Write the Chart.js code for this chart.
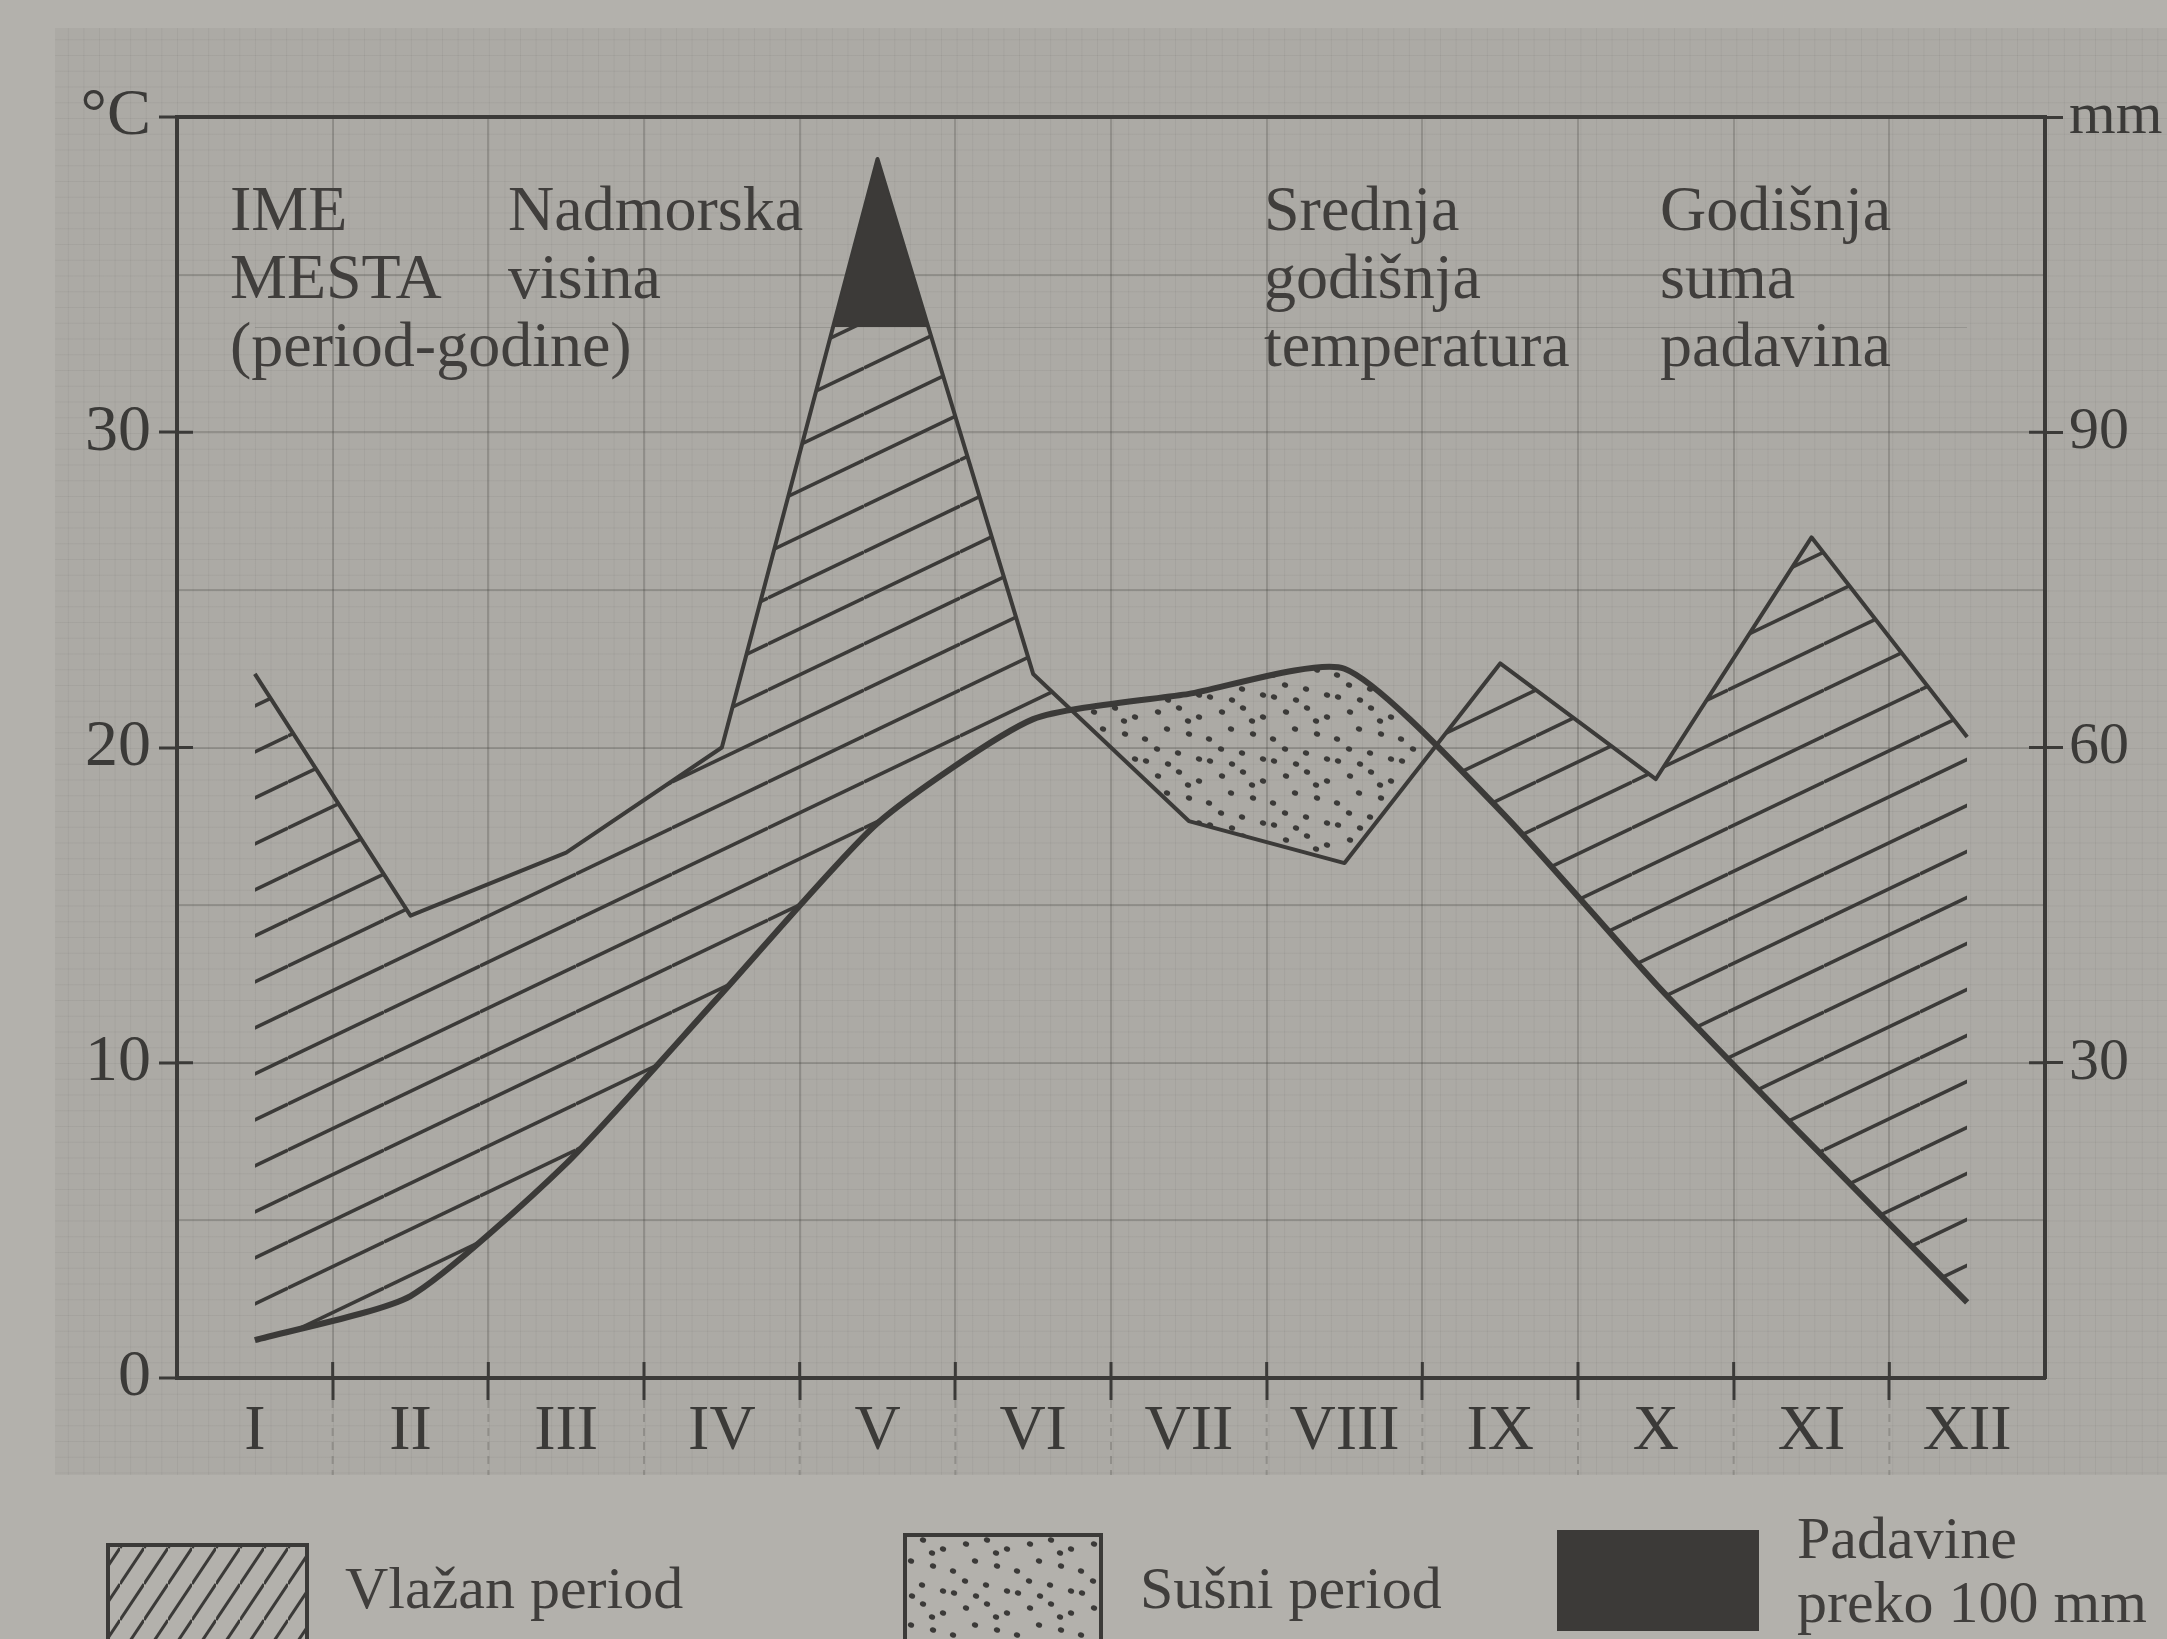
<!DOCTYPE html>
<html>
<head>
<meta charset="utf-8">
<script src="https://cdn.jsdelivr.net/npm/chart.js@4.4.1/dist/chart.umd.min.js"></script>
<style>
  html, body { margin: 0; padding: 0; background: #b3b1ac; }
  body { width: 2167px; height: 1639px; position: relative; overflow: hidden; }
  #paper {
    position: absolute; left: 55px; top: 28px; width: 2112px; height: 1447px;
    background-color: #acaaa5;
    background-image:
      linear-gradient(to right, rgba(70, 68, 65, 0.07) 1px, transparent 1px),
      linear-gradient(to bottom, rgba(70, 68, 65, 0.07) 1px, transparent 1px);
    background-size: 15.6px 15.75px;
    background-position: 12.8px 11.25px;
  }
  #wrap { position: absolute; left: 0; top: 0; width: 2167px; height: 1639px; }
</style>
</head>
<body>
<div id="paper"></div>
<div id="wrap"><canvas id="chart"></canvas></div>
<script>
const months = ['I', 'II', 'III', 'IV', 'V', 'VI', 'VII', 'VIII', 'IX', 'X', 'XI', 'XII'];
const temperature = [1.2, 2.6, 6.8, 12.2, 17.6, 20.9, 21.7, 22.5, 18.0, 12.5, 7.4, 2.4];
const precipitation = [67, 44, 50, 60, 116, 67, 53, 49, 68, 57, 80, 61];
const tempTickLabels = ['0', '10', '20', '30', '°C'];
const rainTickLabels = ['', '30', '60', '90', 'mm'];
const wetLimit = 100;

const ink = '#3b3a38';
const gridInk = 'rgba(60, 58, 55, 0.24)';
const serif = '"Liberation Serif", "DejaVu Serif", serif';
Chart.defaults.font.family = serif;
Chart.defaults.color = ink;

// diagonal hatch, lines rising to the right
const makeHatch = (w, h, width) => {
    const c = document.createElement('canvas');
    c.width = w; c.height = h;
    const g = c.getContext('2d');
    g.strokeStyle = ink;
    g.lineWidth = width;
    for (const off of [-h, 0, h]) {
        g.beginPath();
        g.moveTo(0, h + off);
        g.lineTo(w, off);
        g.stroke();
    }
    return g.createPattern(c, 'repeat');
};

const dotSpots = [[6, 8], [27, 4], [47, 13], [15, 25], [37, 30], [57, 35], [5, 45], [26, 49], [47, 55], [16, 60], [36, 17], [58, 57]];
const makeDots = () => {
    const c = document.createElement('canvas');
    c.width = 64; c.height = 64;
    const g = c.getContext('2d');
    g.fillStyle = ink;
    dotSpots.forEach(([x, y]) => {
        g.beginPath();
        g.ellipse(x, y, 3.2, 2.6, 0.4, 0, Math.PI * 2);
        g.fill();
    });
    return g.createPattern(c, 'repeat');
};

const hatch = makeHatch(96, 46, 3.5);
const legendHatch = makeHatch(24, 36, 3);
const dots = makeDots();

const crossTicks = {
    id: 'crossTicks',
    afterDraw(chart) {
        const { ctx, chartArea, scales } = chart;
        ctx.save();
        ctx.strokeStyle = ink;
        ctx.lineWidth = 3;
        tempTickLabels.forEach((t, i) => {
            const y = scales.y.getPixelForValue(i * 10);
            ctx.beginPath(); ctx.moveTo(chartArea.left, y); ctx.lineTo(chartArea.left + 16, y); ctx.stroke();
        });
        rainTickLabels.forEach((t, i) => {
            if (!t) return;
            const y = scales.y2.getPixelForValue(i * 30);
            ctx.beginPath(); ctx.moveTo(chartArea.right - 16, y); ctx.lineTo(chartArea.right, y); ctx.stroke();
        });
        for (let i = 1; i < months.length; i++) {
            const x = (scales.x.getPixelForValue(i - 1) + scales.x.getPixelForValue(i)) / 2;
            ctx.strokeStyle = ink;
            ctx.lineWidth = 3;
            ctx.beginPath(); ctx.moveTo(x, chartArea.bottom - 16); ctx.lineTo(x, chartArea.bottom); ctx.stroke();
            ctx.strokeStyle = gridInk;
            ctx.lineWidth = 2;
            ctx.setLineDash([8, 6]);
            ctx.beginPath(); ctx.moveTo(x, chartArea.bottom + 22); ctx.lineTo(x, 1475); ctx.stroke();
            ctx.setLineDash([]);
        }
        ctx.restore();
    }
};

const headerText = {
    id: 'headerText',
    beforeDatasetsDraw(chart) {
        const ctx = chart.ctx;
        ctx.save();
        ctx.fillStyle = '#403e3c';
        ctx.font = `64px ${serif}`;
        ctx.textBaseline = 'alphabetic';
        const cols = [
            [230, ['IME', 'MESTA', '(period-godine)']],
            [508, ['Nadmorska', 'visina']],
            [1264, ['Srednja', 'godišnja', 'temperatura']],
            [1660, ['Godišnja', 'suma', 'padavina']]
        ];
        cols.forEach(([x, lines]) => {
            lines.forEach((s, i) => ctx.fillText(s, x, 230 + i * 68));
        });
        ctx.restore();
    }
};

const bottomLegend = {
    id: 'bottomLegend',
    afterDraw(chart) {
        const ctx = chart.ctx;
        ctx.save();
        ctx.lineWidth = 4;
        ctx.strokeStyle = ink;
        ctx.fillStyle = legendHatch;
        ctx.fillRect(108, 1545, 199, 120);
        ctx.strokeRect(108, 1545, 199, 120);
        ctx.fillStyle = dots;
        ctx.fillRect(905, 1535, 196, 120);
        ctx.strokeRect(905, 1535, 196, 120);
        ctx.fillStyle = '#3c3a38';
        ctx.fillRect(1557, 1530, 202, 101);
        ctx.fillStyle = '#403e3c';
        ctx.font = `60px ${serif}`;
        ctx.fillText('Vlažan period', 345, 1608);
        ctx.fillText('Sušni period', 1140, 1608);
        ctx.fillText('Padavine', 1797, 1558);
        ctx.fillText('preko 100 mm', 1797, 1622);
        ctx.restore();
    }
};

new Chart(document.getElementById('chart'), {
    type: 'line',
    data: {
        labels: months,
        datasets: [
            {
                label: 'Srednja temperatura',
                data: temperature,
                yAxisID: 'y',
                borderColor: ink,
                borderWidth: 6,
                tension: 0.2,
                pointRadius: 0,
                fill: false,
                order: 0
            },
            {
                label: 'Padavine',
                data: precipitation,
                yAxisID: 'y2',
                borderColor: ink,
                borderWidth: 4,
                borderJoinStyle: 'round',
                tension: 0,
                pointRadius: 0,
                fill: { target: 0, above: hatch, below: dots },
                order: 2
            },
            {
                label: 'Padavine preko 100 mm',
                data: precipitation,
                yAxisID: 'y2',
                borderWidth: 0,
                borderColor: 'rgba(0,0,0,0)',
                tension: 0,
                pointRadius: 0,
                fill: { value: wetLimit, above: '#3c3a38', below: 'rgba(0,0,0,0)' },
                order: 1
            }
        ]
    },
    options: {
        responsive: true,
        maintainAspectRatio: false,
        animation: false,
        devicePixelRatio: 1,
        layout: { padding: { left: 0, right: 0, top: 117, bottom: 171 } },
        plugins: {
            legend: { display: false },
            tooltip: { enabled: false }
        },
        scales: {
            x: {
                offset: true,
                grid: {
                    offset: true,
                    color: gridInk,
                    lineWidth: 2,
                    tickLength: 22,
                    tickWidth: 3,
                    tickColor: ctx => (ctx.type !== 'tick' || ctx.index === 0) ? 'rgba(0,0,0,0)' : ink
                },
                border: { color: ink, width: 4 },
                ticks: { font: { size: 64 }, color: ink, padding: -6 },
                afterFit: s => { s.height = 90; }
            },
            y: {
                min: 0,
                max: 40,
                ticks: {
                    stepSize: 5,
                    autoSkip: false,
                    font: { size: 66 },
                    color: ink,
                    padding: 8,
                    callback: v => v % 10 === 0 ? tempTickLabels[v / 10] : ''
                },
                grid: {
                    color: ctx => ctx.tick.value === 40 ? ink : gridInk,
                    lineWidth: ctx => ctx.tick.value === 40 ? 4 : 2,
                    tickLength: 18,
                    tickWidth: 3,
                    tickColor: ctx => ctx.tick.value % 10 === 0 ? ink : 'rgba(0,0,0,0)'
                },
                border: { color: ink, width: 4 },
                afterFit: s => { s.width = 177; }
            },
            y2: {
                position: 'right',
                min: 0,
                max: 120,
                ticks: {
                    stepSize: 30,
                    font: { size: 60 },
                    color: ink,
                    padding: 6,
                    callback: v => rainTickLabels[v / 30]
                },
                grid: {
                    drawOnChartArea: false,
                    tickLength: 18,
                    tickWidth: 3,
                    tickColor: ctx => ctx.tick.value === 0 ? 'rgba(0,0,0,0)' : ink
                },
                border: { color: ink, width: 4 },
                afterFit: s => { s.width = 122; }
            }
        }
    },
    plugins: [headerText, crossTicks, bottomLegend]
});
</script>
</body>
</html>
